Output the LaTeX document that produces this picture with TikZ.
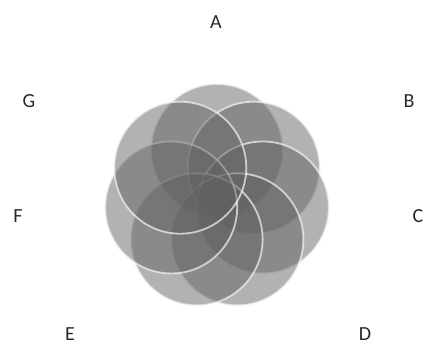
\documentclass[tikz,border=0pt]{standalone}
\usepackage{fontspec}
\setmainfont{Carlito}
\usetikzlibrary{calc}
\begin{document}
\begin{tikzpicture}[x=1pt,y=-1pt,
  petal/.style={fill={rgb,255:red,95;green,95;blue,95},fill opacity=0.48,draw={rgb,255:red,245;green,245;blue,245},draw opacity=0.7,line width=1.8pt},
  lbl/.style={font=\fontsize{20}{24}\selectfont,text={rgb,255:red,40;green,40;blue,40},inner sep=0pt}]
\useasboundingbox (0,0) rectangle (425,345);
\coordinate (ctr) at (217,197);
\foreach \i/\a in {1/90,2/38.57,3/-12.86,4/-64.29,5/-115.71,6/-167.14,7/141.43}{
  \path[petal] ($(ctr)+(\a:47pt)$) circle[radius=66pt];
}
\node[lbl] (A) at (216,22) {A};
\node[lbl] (B) at (409,101) {B};
\node[lbl] (C) at (418,216) {C};
\node[lbl] (D) at (365,334) {D};
\node[lbl] (E) at (70,334) {E};
\node[lbl] (F) at (18,216) {F};
\node[lbl] (G) at (29,101) {G};
\end{tikzpicture}
\end{document}
